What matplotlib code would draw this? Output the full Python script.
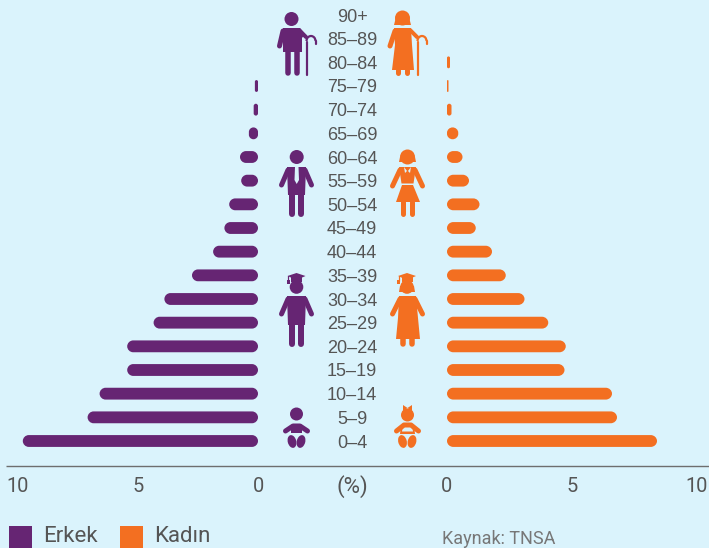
import matplotlib
matplotlib.use('Agg')
import matplotlib.pyplot as plt
from matplotlib.patches import Circle, Ellipse, Polygon, Arc, Rectangle, PathPatch
from matplotlib.path import Path
from matplotlib.transforms import blended_transform_factory

# --- Pyramide des âges ---
age_groups = ['0–4', '5–9', '10–14', '15–19', '20–24', '25–29', '30–34', '35–39', '40–44', '45–49',
              '50–54', '55–59', '60–64', '65–69', '70–74', '75–79', '80–84', '85–89', '90+']
erkek = [9.8, 7.1, 6.6, 5.45, 5.45, 4.35, 3.9, 2.75, 1.87, 1.4, 1.2, 0.7, 0.75, 0.38, 0.18, 0.13, 0, 0, 0]
kadin = [8.4, 6.8, 6.6, 4.7, 4.75, 4.05, 3.1, 2.35, 1.8, 1.15, 1.3, 0.88, 0.62, 0.45, 0.18, 0.06, 0.12, 0, 0]
axis_ticks = [0, 5, 10]

BG = '#DAF3FC'
PURPLE = '#662573'
ORANGE = '#F36F21'
TEXT = '#555555'
W, H = 709, 548

fig = plt.figure(figsize=(W / 100, H / 100), dpi=100, facecolor=BG)
plt.rcParams['font.family'] = ['Roboto', 'DejaVu Sans']


def px_axes(x0, x1, y_top, y_bottom):
    return fig.add_axes([x0 / W, 1 - y_bottom / H, (x1 - x0) / W, (y_bottom - y_top) / H])


# y : 0-4 à 441 px, 90+ à 15 px, axe à 465 px
row = (441 - 15) / 18
ymin, ymax = -(465 - 441) / row, 18 + 15 / row
ax_l = px_axes(18, 258, 0, 465)
ax_r = px_axes(447, 697, 0, 465)
ax_l.set_xlim(10, 0)
ax_r.set_xlim(0, 10)


def pill(x0, x1, yc, h):
    # barre aux extrémités arrondies, en unités de données
    rx = min((x1 - x0) / 2, 0.25)
    ry = min(h / 2, rx)
    k = 0.55
    b, t = yc - h / 2, yc + h / 2
    verts = [(x0 + rx, b), (x1 - rx, b),
             (x1 - rx + k * rx, b), (x1, b + ry - k * ry), (x1, b + ry),
             (x1, t - ry),
             (x1, t - ry + k * ry), (x1 - rx + k * rx, t), (x1 - rx, t),
             (x0 + rx, t),
             (x0 + rx - k * rx, t), (x0, t - ry + k * ry), (x0, t - ry),
             (x0, b + ry),
             (x0, b + ry - k * ry), (x0 + rx - k * rx, b), (x0 + rx, b)]
    codes = [Path.MOVETO, Path.LINETO,
             Path.CURVE4, Path.CURVE4, Path.CURVE4,
             Path.LINETO,
             Path.CURVE4, Path.CURVE4, Path.CURVE4,
             Path.LINETO,
             Path.CURVE4, Path.CURVE4, Path.CURVE4,
             Path.LINETO,
             Path.CURVE4, Path.CURVE4, Path.CURVE4]
    return Path(verts, codes)


def rounded_bars(ax, values, color):
    for i, v in enumerate(values):
        if v > 0:
            ax.add_patch(PathPatch(pill(0, v, i, 0.5), fc=color, ec='none'))


rounded_bars(ax_l, erkek, PURPLE)
rounded_bars(ax_r, kadin, ORANGE)

for ax in (ax_l, ax_r):
    ax.set_ylim(ymin, ymax)
    ax.set_facecolor('none')
    for s in ax.spines.values():
        s.set_visible(False)
    ax.set_yticks([])
    ax.set_xticks(axis_ticks)
    ax.tick_params(axis='x', length=0, pad=9, labelsize=14.4, labelcolor=TEXT)

# Étiquettes d'âge au centre
trans = blended_transform_factory(fig.transFigure, ax_l.transData)
for i, lab in enumerate(age_groups):
    ax_l.text(352 / W, i, lab, transform=trans, ha='center', va='center_baseline', fontsize=13,
              family=['Liberation Sans', 'DejaVu Sans'], color=TEXT, clip_on=False)

# Calque en pixels pour les pictogrammes et la légende
ov = fig.add_axes([0, 0, 1, 1], zorder=5)
ov.set_xlim(0, W)
ov.set_ylim(H, 0)
ov.axis('off')


def line(pts, color, w):
    xs, ys = zip(*pts)
    ov.plot(xs, ys, color=color, lw=w * 0.72, solid_capstyle='round', solid_joinstyle='round')


def poly(pts, color):
    ov.add_patch(Polygon(pts, closed=True, fc=color, ec='none'))


def head(x, y, r, color):
    ov.add_patch(Circle((x, y), r, fc=color, ec='none'))


def cane(x, y_bottom, color):
    line([(x, y_bottom), (x, 42)], color, 2.2)
    ov.add_patch(Arc((x + 4.5, 41), 9, 10, theta1=180, theta2=360, ec=color, lw=1.6))
    line([(x + 9, 41), (x + 9, 44)], color, 2.2)


def grad_cap(x, color):
    poly([(x - 9, 276), (x, 273), (x + 9, 276), (x, 280)], color)
    poly([(x - 5.5, 277), (x + 5.5, 277), (x + 5.5, 282), (x - 5.5, 282)], color)
    line([(x - 8.5, 276), (x - 8.5, 281)], color, 1.2)
    poly([(x - 10, 280), (x - 7, 280), (x - 7, 284), (x - 10, 284)], color)


# Homme âgé
head(291.5, 19, 7, PURPLE)
poly([(283, 28), (300, 28), (305, 34), (302, 38), (302, 52), (283, 52)], PURPLE)
line([(283, 31), (279.5, 46)], PURPLE, 5)
line([(299, 30), (306, 37)], PURPLE, 4)
line([(288, 50), (288, 72.5)], PURPLE, 5.5)
line([(296.5, 50), (296.5, 72.5)], PURPLE, 5.5)
cane(306.5, 74.5, PURPLE)

# Femme âgée
head(402.5, 18, 7.5, ORANGE)
poly([(395.5, 19), (409.5, 19), (411, 25), (394, 25)], ORANGE)
poly([(394, 28), (411, 28), (412, 45), (414, 70), (392, 70), (395, 45)], ORANGE)
line([(395, 31), (390, 46)], ORANGE, 5)
line([(410, 30), (417, 37)], ORANGE, 4)
line([(398, 70), (398, 72.5)], ORANGE, 5)
line([(407, 70), (407, 72.5)], ORANGE, 5)
cane(417.5, 74.5, ORANGE)

# Homme d'affaires
head(296.7, 157, 7, PURPLE)
poly([(287, 167), (306, 167), (305, 195), (288, 195)], PURPLE)
line([(288, 170), (281.5, 185)], PURPLE, 5)
line([(305, 170), (311.5, 185)], PURPLE, 5)
line([(292, 193), (292, 214)], PURPLE, 6)
line([(301, 193), (301, 214)], PURPLE, 6)
poly([(295, 167), (298.5, 167), (299, 180), (296.7, 184), (294.5, 180)], BG)

# Femme d'affaires
head(407.5, 157, 7.5, ORANGE)
poly([(400, 157), (415, 157), (416, 162), (399, 162)], ORANGE)
poly([(399, 167), (416, 167), (413.5, 183.5), (401.5, 183.5)], ORANGE)
poly([(402, 185), (413, 185), (420, 202), (396, 202)], ORANGE)
line([(400, 170), (392.5, 186)], ORANGE, 5)
line([(415, 170), (422.5, 186)], ORANGE, 5)
line([(402.7, 202), (402.7, 214)], ORANGE, 5)
line([(412, 202), (412, 214)], ORANGE, 5)
poly([(404, 167), (407, 171), (405, 173)], BG)
poly([(411, 167), (408, 171), (410, 173)], BG)

# Diplômé
head(296.5, 287, 6.8, PURPLE)
grad_cap(296.5, PURPLE)
poly([(287, 296), (306, 296), (305, 325), (288, 325)], PURPLE)
line([(288, 299), (281.5, 314)], PURPLE, 5)
line([(305, 299), (311.5, 314)], PURPLE, 5)
line([(292, 322), (292, 344)], PURPLE, 6)
line([(301, 322), (301, 344)], PURPLE, 6)

# Diplômée
head(407, 287, 6.8, ORANGE)
poly([(400, 286), (414, 286), (415, 292), (399, 292)], ORANGE)
grad_cap(407, ORANGE)
poly([(399, 296), (416, 296), (418, 318), (420, 339), (396, 339), (398, 318)], ORANGE)
line([(400, 299), (392.5, 314)], ORANGE, 5)
line([(415, 299), (422.5, 314)], ORANGE, 5)
line([(403, 338), (403, 343.5)], ORANGE, 5.5)
line([(412, 338), (412, 343.5)], ORANGE, 5.5)

# Bébé garçon
head(296.5, 414, 6.5, PURPLE)
line([(285.5, 431), (293, 426), (300, 426), (307.5, 431)], PURPLE, 5)
poly([(291, 426), (302, 426), (302, 433), (291, 433)], PURPLE)
ov.add_patch(Ellipse((292, 441.5), 8.5, 13, angle=-15, fc=PURPLE, ec='none'))
ov.add_patch(Ellipse((301, 441.5), 8.5, 13, angle=15, fc=PURPLE, ec='none'))

# Bébé fille
head(407.5, 415, 6.5, ORANGE)
poly([(407.5, 408), (403, 405), (403, 411)], ORANGE)
poly([(407.5, 408), (412, 405), (412, 411)], ORANGE)
line([(396.5, 431), (404, 425), (411, 425), (418.5, 431)], ORANGE, 5)
poly([(401, 425), (414, 425), (415, 434), (400, 434)], ORANGE)
poly([(403, 425.5), (412, 425.5), (413, 431.5), (402, 431.5)], BG)
ov.add_patch(Ellipse((402.5, 441.5), 8.5, 13, angle=-15, fc=ORANGE, ec='none'))
ov.add_patch(Ellipse((412, 441.5), 8.5, 13, angle=15, fc=ORANGE, ec='none'))

# Ligne d'axe et unité
ov.plot([6, W], [465.5, 465.5], color='#6e6e6e', lw=1.0, solid_capstyle='butt')
ov.text(352, 484, '(%)', ha='center', va='center_baseline', fontsize=16, color=TEXT)

# Légende et source
ov.add_patch(Rectangle((9, 526), 23, 23, fc=PURPLE, ec='none', clip_on=False))
ov.add_patch(Rectangle((120, 526), 23, 23, fc=ORANGE, ec='none', clip_on=False))
ov.text(43, 542.5, 'Erkek', ha='left', va='baseline', fontsize=16, color=TEXT)
ov.text(154, 542.5, 'Kadın', ha='left', va='baseline', fontsize=16, color=TEXT)
ov.text(442, 544, 'Kaynak: TNSA', ha='left', va='baseline', fontsize=13, color='#777777', clip_on=False)

fig.savefig('out.png', dpi=100, facecolor=BG)
